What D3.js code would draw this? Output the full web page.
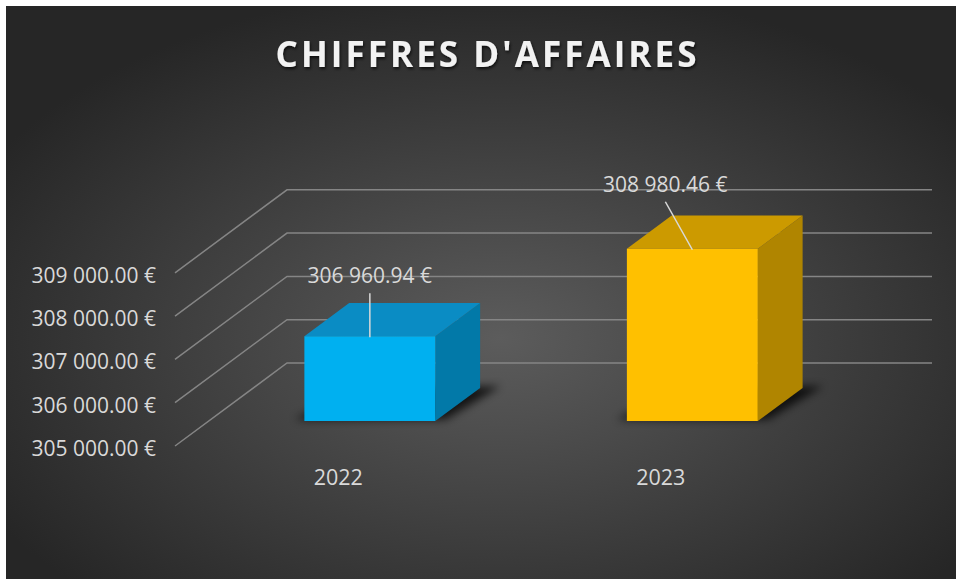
<!DOCTYPE html>
<html>
<head>
<meta charset="utf-8">
<script src="https://cdn.jsdelivr.net/npm/d3@7"></script>
<style>
  body { margin: 0; background: #fff; }
  svg { display: block; }
  text { font-family: "Open Sans", sans-serif; }
</style>
</head>
<body>
<script>
// data
const categories = ["2022", "2023"];
const values = [306960.94, 308980.46];
const yTicks = [305000, 306000, 307000, 308000, 309000];
const chartTitle = "CHIFFRES D'AFFAIRES";

// styles
const faceColors = [
  { front: "#00b0f0", top: "#0a8cc4", side: "#0279a8" },
  { front: "#ffc000", top: "#cc9a00", side: "#b08500" }
];
// manual data label placement (dx, dy from top front centre of the bar)
const labelOffsets = [[0, -53], [-27, -57]];

const W = 956, H = 579;
const DX = 112, DY = 83;           // oblique depth offset of the back wall
const zFront = 0.3, zBack = 0.7;   // depth span of the bars

const fr = d3.formatLocale({
  decimal: ".",
  thousands: "\u00a0",
  grouping: [3],
  currency: ["", "\u00a0€"]
});
const fmt = fr.format("$,.2f");

const svg = d3.select("body")
  .append("svg")
  .attr("width", W)
  .attr("height", H);

const defs = svg.append("defs");

const bg = defs.append("radialGradient")
  .attr("id", "bg")
  .attr("cx", "52%").attr("cy", "58%").attr("r", "62%");
bg.append("stop").attr("offset", "0%").attr("stop-color", "#5c5c5c");
bg.append("stop").attr("offset", "100%").attr("stop-color", "#262626");

defs.append("filter")
  .attr("id", "tshadow")
  .attr("x", "-10%").attr("y", "-30%").attr("width", "120%").attr("height", "160%")
  .append("feDropShadow")
  .attr("dx", 1).attr("dy", 2).attr("stdDeviation", 1.5)
  .attr("flood-color", "#000").attr("flood-opacity", 0.7);

defs.append("filter")
  .attr("id", "blur")
  .attr("x", "-30%").attr("y", "-60%").attr("width", "160%").attr("height", "220%")
  .append("feGaussianBlur")
  .attr("stdDeviation", 4);

// chart area
svg.append("rect")
  .attr("x", 6).attr("y", 6)
  .attr("width", W - 6).attr("height", H - 6)
  .attr("fill", "url(#bg)");

// scales (front plane)
const x = d3.scaleBand()
  .domain(categories)
  .range([175, 820])
  .paddingInner(0.594)
  .paddingOuter(0.297);

const y = d3.scaleLinear()
  .domain([305000, 309000])
  .range([446, 272.8]);

const base = y.domain()[0];

// project a point (front x, value, depth 0..1)
const proj = (xf, v, z) => [xf + z * DX, y(v) - z * DY];
const pts = arr => arr.map(p => p.join(",")).join(" ");

// gridlines: left wall diagonals and back wall
const grid = svg.append("g")
  .attr("stroke", "#858585")
  .attr("stroke-width", 1.5)
  .attr("fill", "none");

grid.selectAll(".side")
  .data(yTicks)
  .join("polyline")
  .attr("class", "side")
  .attr("points", d => pts([
    proj(x.range()[0], d, 0),
    proj(x.range()[0], d, 1),
    proj(x.range()[1], d, 1)
  ]));

// y tick labels
svg.append("g")
  .selectAll("text")
  .data(yTicks)
  .join("text")
  .attr("x", 156)
  .attr("y", d => y(d) + 10)
  .attr("text-anchor", "end")
  .attr("fill", "#d9d9d9")
  .attr("font-size", 21)
  .text(d => fmt(d));

// bars
const bars = svg.append("g")
  .selectAll("g")
  .data(values)
  .join("g");

// base shadow
bars.append("polygon")
  .attr("points", (d, i) => {
    const x0 = x(categories[i]) - 12, x1 = x(categories[i]) + x.bandwidth() + 8;
    return pts([
      proj(x0, base, zFront + 0.02),
      proj(x1, base, zFront + 0.02),
      proj(x1 + 10, base, zBack + 0.02),
      proj(x0 + 20, base, zBack)
    ]);
  })
  .attr("fill", "#000")
  .attr("opacity", 0.75)
  .attr("filter", "url(#blur)");

bars.append("polygon")
  .attr("points", (d, i) => {
    const x1 = x(categories[i]) + x.bandwidth();
    return pts([proj(x1, base, zFront), proj(x1, base, zBack), proj(x1, d, zBack), proj(x1, d, zFront)]);
  })
  .attr("fill", (d, i) => faceColors[i].side);

bars.append("polygon")
  .attr("points", (d, i) => {
    const x0 = x(categories[i]), x1 = x0 + x.bandwidth();
    return pts([proj(x0, d, zFront), proj(x1, d, zFront), proj(x1, d, zBack), proj(x0, d, zBack)]);
  })
  .attr("fill", (d, i) => faceColors[i].top);

bars.append("polygon")
  .attr("points", (d, i) => {
    const x0 = x(categories[i]), x1 = x0 + x.bandwidth();
    return pts([proj(x0, base, zFront), proj(x1, base, zFront), proj(x1, d, zFront), proj(x0, d, zFront)]);
  })
  .attr("fill", (d, i) => faceColors[i].front);

// data labels with leader lines
bars.each(function (d, i) {
  const g = d3.select(this);
  const [cx, cy] = proj(x(categories[i]) + x.bandwidth() / 2, d, zFront);
  const lx = cx + labelOffsets[i][0], ly = cy + labelOffsets[i][1];
  g.append("line")
    .attr("x1", lx).attr("y1", ly + 10)
    .attr("x2", cx).attr("y2", cy + 1)
    .attr("stroke", "#d9d9d9")
    .attr("stroke-width", 1.5);
  g.append("text")
    .attr("x", lx)
    .attr("y", ly)
    .attr("text-anchor", "middle")
    .attr("fill", "#d9d9d9")
    .attr("font-size", 21)
    .text(fmt(d));
});

// category labels
svg.append("g")
  .selectAll("text")
  .data(categories)
  .join("text")
  .attr("x", d => x(d) + x.bandwidth() / 2 + 2)
  .attr("y", y(base) + 39)
  .attr("text-anchor", "middle")
  .attr("fill", "#d9d9d9")
  .attr("font-size", 21.5)
  .text(d => d);

// title
svg.append("text")
  .attr("x", 486)
  .attr("y", 67)
  .attr("text-anchor", "middle")
  .attr("fill", "#f2f2f2")
  .attr("font-size", 35)
  .attr("font-weight", "bold")
  .attr("textLength", 421)
  .attr("lengthAdjust", "spacing")
  .attr("filter", "url(#tshadow)")
  .text(chartTitle);
</script>
</body>
</html>
